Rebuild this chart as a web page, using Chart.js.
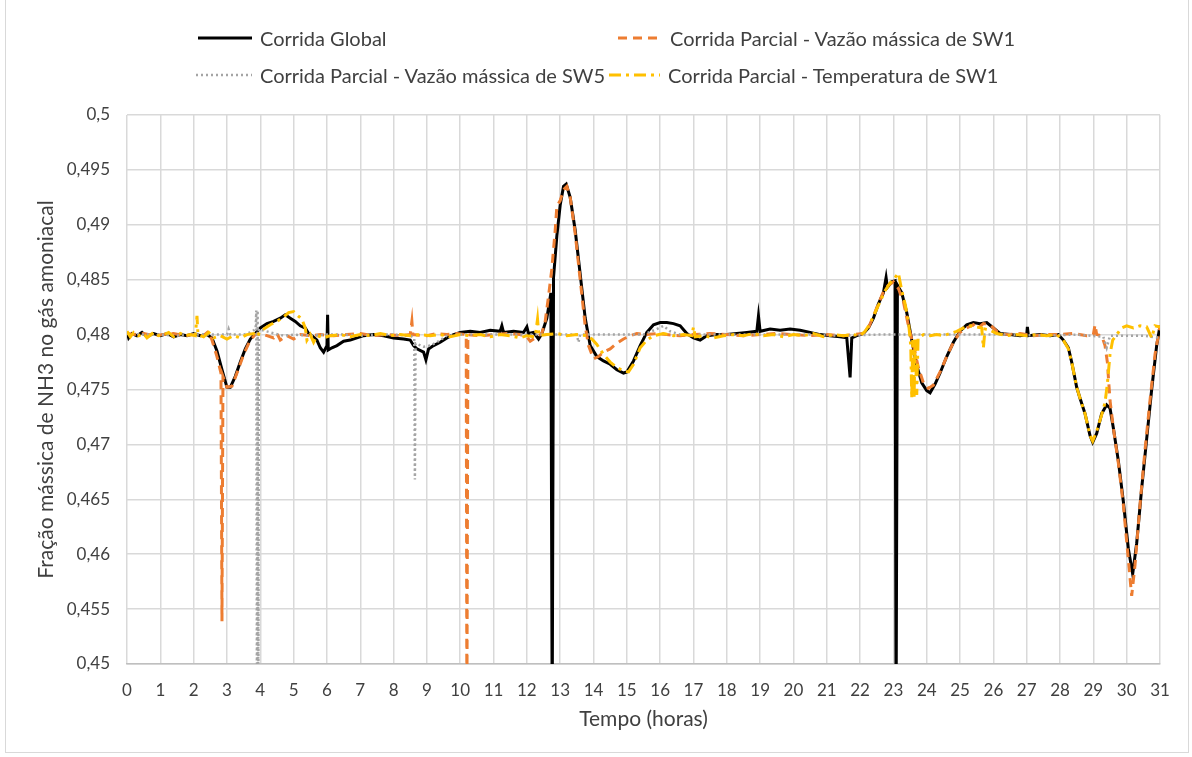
<!DOCTYPE html>
<html>
<head>
<meta charset="utf-8">
<script src="https://cdn.jsdelivr.net/npm/chart.js@4"></script>
<style>
  body { margin: 0; background: #fff; }
  #wrap { position: relative; width: 1192px; height: 757px; overflow: hidden; font-family: Lato, 'Open Sans', sans-serif; }
  #frame { position: absolute; left: 5px; top: -2px; width: 1182px; height: 753px; border: 1px solid #d9d9d9; }
  #chart { position: absolute; left: 0; top: 0; }
  .leg { position: absolute; font-size: 20px; color: #404040; white-space: nowrap; line-height: 26px; }
  .leg svg { position: absolute; left: 0; top: 1px; }
</style>
</head>
<body>
<div id="wrap">
  <div id="frame"></div>
  <canvas id="chart" width="1192" height="757"></canvas>
  <div id="legend"></div>
</div>
<script>
const seriesNames = [
    'Corrida Global',
    'Corrida Parcial - Vazão mássica de SW1',
    'Corrida Parcial - Vazão mássica de SW5',
    'Corrida Parcial - Temperatura de SW1'
];
const seriesColors = ['#000000', '#ed7d31', '#a5a5a5', '#ffc000'];
const seriesDash = [[], [9, 6], [2, 3], [12, 5, 3, 5]];

const yTicks = [0.45, 0.455, 0.46, 0.465, 0.47, 0.475, 0.48, 0.485, 0.49, 0.495, 0.5];
const xTicks = [0, 1, 2, 3, 4, 5, 6, 7, 8, 9, 10, 11, 12, 13, 14, 15, 16, 17, 18, 19, 20, 21, 22, 23, 24, 25, 26, 27, 28, 29, 30, 31];

// Corrida Global
const tGlobal = [0, 0.05, 0.15, 0.3, 0.45, 0.6, 0.8, 1.0, 1.2, 1.4, 1.6, 1.8, 2.0, 2.2, 2.4, 2.55,
    2.7, 2.85, 3.0, 3.1, 3.25, 3.4, 3.55, 3.7, 3.85, 4.0, 4.2, 4.4, 4.6, 4.75, 4.9, 5.05, 5.2, 5.35, 5.45, 5.55,
    5.7, 5.8, 5.9, 6.0, 6.02, 6.04, 6.15, 6.3, 6.5, 6.7, 6.9, 7.1, 7.4, 7.7, 8.0, 8.3, 8.5, 8.6, 8.7, 8.9,
    8.97, 9.05, 9.2, 9.4, 9.6, 9.8, 10.0, 10.3, 10.6, 10.9, 11.2, 11.25, 11.3, 11.6, 11.9, 12.0, 12.05, 12.2,
    12.35, 12.45, 12.6, 12.72, 12.76, 12.8, 12.9, 13.0, 13.1, 13.18, 13.3, 13.45, 13.6, 13.75, 13.9, 14.1,
    14.3, 14.5, 14.7, 14.9, 15.0, 15.2, 15.4, 15.6, 15.8, 16.0, 16.2, 16.4, 16.6, 16.8, 17.0, 17.2, 17.4,
    17.7, 18.0, 18.3, 18.6, 18.9, 18.95, 19.0, 19.3, 19.6, 19.9, 20.2, 20.5, 20.8, 21.1, 21.4, 21.6, 21.7,
    21.75, 21.9, 22.1, 22.25, 22.4, 22.55, 22.7, 22.78, 22.82, 22.95, 23.05, 23.08, 23.12, 23.25, 23.4,
    23.55, 23.7, 23.85, 24.0, 24.1, 24.25, 24.4, 24.6, 24.8, 25.0, 25.2, 25.4, 25.6, 25.8, 26.0, 26.2, 26.5,
    26.8, 27.0, 27.02, 27.05, 27.4, 27.7, 27.95, 28.1, 28.25, 28.35, 28.5, 28.6, 28.75, 28.9, 28.98, 29.1,
    29.25, 29.4, 29.5, 29.6, 29.75, 29.9, 30.05, 30.18, 30.3, 30.45, 30.6, 30.75, 30.9, 31.0];
const yGlobal = [0.4802, 0.4797, 0.4801, 0.4799, 0.4802, 0.4798, 0.4801, 0.4799, 0.4801, 0.4798, 0.4800, 0.4799, 0.4801, 0.4799, 0.4800, 0.4797,
    0.4785, 0.4768, 0.4752, 0.4752, 0.4762, 0.4775, 0.4787, 0.4796, 0.4801, 0.4806, 0.4810, 0.4812, 0.4815, 0.4818, 0.4815, 0.4812, 0.4808, 0.4806, 0.4801, 0.4799,
    0.4795, 0.4788, 0.4784, 0.4790, 0.4818, 0.4786, 0.4788, 0.4790, 0.4794, 0.4795, 0.4797, 0.4799, 0.4800, 0.4799, 0.4797, 0.4796, 0.4795, 0.4790, 0.4787, 0.4784,
    0.4777, 0.4787, 0.4790, 0.4793, 0.4797, 0.4800, 0.4802, 0.4803, 0.4802, 0.4804, 0.4803, 0.4808, 0.4802, 0.4803, 0.4802, 0.4807, 0.4801, 0.4802,
    0.4796, 0.4801, 0.4815, 0.4838, 0.4450, 0.4852, 0.4890, 0.4918, 0.4935, 0.4937, 0.4925, 0.4895, 0.4855, 0.4815, 0.4790, 0.4780,
    0.4776, 0.4773, 0.4768, 0.4765, 0.4766, 0.4776, 0.4790, 0.4802, 0.4809, 0.4811, 0.4811, 0.4810, 0.4808, 0.4801, 0.4797, 0.4795, 0.4799,
    0.4800, 0.4800, 0.4801, 0.4802, 0.4803, 0.4817, 0.4803, 0.4805, 0.4804, 0.4805, 0.4804, 0.4802, 0.4800, 0.4799, 0.4798, 0.4797, 0.4761,
    0.4797, 0.4799, 0.4801, 0.4806, 0.4815, 0.4828, 0.4838, 0.4852, 0.4843, 0.4848, 0.4849, 0.4450, 0.4845, 0.4838, 0.4820,
    0.4795, 0.4772, 0.4756, 0.4749, 0.4747, 0.4755, 0.4765, 0.4780, 0.4793, 0.4803, 0.4809, 0.4811, 0.4810, 0.4811, 0.4806, 0.4801, 0.4800,
    0.4799, 0.4800, 0.4807, 0.4799, 0.4800, 0.4799, 0.4800, 0.4795, 0.4788, 0.4775, 0.4752, 0.4742, 0.4728, 0.4708, 0.4702, 0.4710,
    0.4728, 0.4736, 0.4733, 0.4715, 0.4685, 0.4648, 0.4605, 0.4582, 0.4610, 0.4660, 0.4705, 0.4750, 0.4790, 0.4808];

// Corrida Parcial - Vazão mássica de SW1
const tSW1 = [0, 0.2, 0.5, 0.8, 1.1, 1.4, 1.7, 2.0, 2.3, 2.45, 2.55, 2.7, 2.82, 2.85, 2.88, 3.0, 3.15, 3.3, 3.5,
    3.7, 3.85, 4.0, 4.2, 4.4, 4.5, 4.6, 4.8, 5.0, 5.2, 5.5, 5.8, 6.2, 6.6, 7.0, 7.4, 7.8, 8.2, 8.5, 8.55, 8.58,
    9.0, 9.3, 9.6, 9.9, 10.18, 10.2, 10.23, 10.6, 11.0, 11.4, 11.8, 12.0, 12.1, 12.25, 12.45, 12.55, 12.65,
    12.75, 12.85, 12.9, 13.0, 13.1, 13.2, 13.3, 13.45, 13.6, 13.75, 13.85, 14.0, 14.15, 14.3, 14.5, 14.7,
    14.9, 15.1, 15.3, 15.6, 15.9, 16.2, 16.6, 17.0, 17.5, 18.0, 18.5, 19.0, 19.5, 20.0, 20.5, 21.0, 21.5,
    22.1, 22.25, 22.4, 22.55, 22.7, 22.85, 23.0, 23.15, 23.3, 23.45, 23.6, 23.75, 23.9, 24.05, 24.2, 24.4,
    24.6, 24.8, 25.0, 25.2, 25.4, 25.5, 25.7, 25.9, 26.1, 26.4, 26.8, 27.2, 27.6, 28.0, 28.4, 28.8, 29.0,
    29.05, 29.1, 29.25, 29.35, 29.42, 29.5, 29.6, 29.75, 29.9, 30.05, 30.15, 30.25, 30.4, 30.55, 30.7,
    30.85, 31.0];
const ySW1 = [0.4801, 0.4800, 0.4801, 0.4799, 0.4800, 0.4801, 0.4799, 0.4800, 0.4799, 0.4803, 0.4795, 0.4780, 0.4765, 0.4539, 0.4762, 0.4752, 0.4753, 0.4765, 0.4782,
    0.4795, 0.4800, 0.4801, 0.4799, 0.4797, 0.4801, 0.4795, 0.4799, 0.4796, 0.4800, 0.4799, 0.4800, 0.4799, 0.4800, 0.4801, 0.4799, 0.4800, 0.4799, 0.4800, 0.4812, 0.4800,
    0.4799, 0.4801, 0.4800, 0.4801, 0.4800, 0.4450, 0.4800, 0.4799, 0.4800, 0.4801, 0.4800, 0.4798, 0.4794, 0.4797, 0.4801, 0.4812, 0.4835,
    0.4860, 0.4895, 0.4917, 0.4922, 0.4932, 0.4935, 0.4925, 0.4892, 0.4850, 0.4808, 0.4790, 0.4778, 0.4780, 0.4784, 0.4787, 0.4792,
    0.4796, 0.4799, 0.4801, 0.4800, 0.4801, 0.4800, 0.4799, 0.4800, 0.4801, 0.4800, 0.4799, 0.4800, 0.4801, 0.4800, 0.4799, 0.4800, 0.4799,
    0.4801, 0.4806, 0.4817, 0.4828, 0.4839, 0.4845, 0.4848, 0.4842, 0.4830, 0.4808, 0.4790, 0.4770, 0.4756, 0.4751, 0.4754, 0.4766,
    0.4780, 0.4793, 0.4802, 0.4806, 0.4809, 0.4805, 0.4810, 0.4809, 0.4803, 0.4800, 0.4801, 0.4799, 0.4800, 0.4800, 0.4801, 0.4799, 0.4800,
    0.4809, 0.4800, 0.4799, 0.4790, 0.4775, 0.4740, 0.4715, 0.4683, 0.4645, 0.4595, 0.4562, 0.4590, 0.4645, 0.4695, 0.4740,
    0.4782, 0.4808];

// Corrida Parcial - Vazão mássica de SW5
const tSW5 = [0, 0.5, 1.0, 1.5, 2.0, 2.5, 3.0, 3.05, 3.1, 3.5, 3.7, 3.86, 3.88, 3.9, 3.92, 3.94, 3.96, 4.3, 4.7,
    5.0, 5.5, 6.0, 6.5, 7.0, 7.5, 8.0, 8.5, 8.62, 8.64, 8.66, 8.9, 9.1, 9.3, 9.6, 10.0, 11.0, 12.0, 13.0,
    13.5, 13.55, 13.6, 14.5, 15.5, 15.9, 16.1, 16.3, 16.6, 17.5, 18.5, 19.5, 20.5, 21.5, 22.5, 23.5, 24.5,
    25.5, 26.5, 27.5, 28.5, 29.3, 29.4, 29.5, 30.0, 30.5, 31.0];
const ySW5 = [0.4801, 0.4800, 0.4800, 0.4799, 0.4800, 0.4800, 0.4800, 0.4805, 0.4800, 0.4800, 0.4802, 0.4805, 0.4822, 0.4450, 0.4822, 0.4450, 0.4805, 0.4802, 0.4799,
    0.4800, 0.4799, 0.4800, 0.4800, 0.4799, 0.4800, 0.4800, 0.4799, 0.4797, 0.4668, 0.4792, 0.4789, 0.4790, 0.4793, 0.4799, 0.4800, 0.4800, 0.4800, 0.4800,
    0.4800, 0.4793, 0.4800, 0.4800, 0.4800, 0.4805, 0.4808, 0.4803, 0.4800, 0.4800, 0.4800, 0.4800, 0.4800, 0.4799, 0.4800, 0.4800, 0.4800,
    0.4800, 0.4800, 0.4799, 0.4800, 0.4798, 0.4788, 0.4799, 0.4799, 0.4799, 0.4797];

// Corrida Parcial - Temperatura de SW1
const tTemp = [0, 0.1, 0.2, 0.35, 0.5, 0.6, 0.8, 0.95, 1.1, 1.25, 1.4, 1.6, 1.75, 1.9, 2.05, 2.1, 2.13, 2.3, 2.45,
    2.6, 2.8, 3.0, 3.2, 3.4, 3.6, 3.8, 3.9, 4.0, 4.15, 4.3, 4.5, 4.7, 4.85, 5.0, 5.1, 5.25, 5.35, 5.4, 5.5,
    5.6, 5.7, 5.9, 6.1, 6.4, 6.7, 7.0, 7.3, 7.6, 7.9, 8.2, 8.5, 8.8, 9.1, 9.4, 9.7, 10.0, 10.3, 10.6, 10.9,
    11.2, 11.5, 11.8, 12.0, 12.25, 12.32, 12.36, 12.6, 12.9, 13.2, 13.5, 13.8, 13.95, 14.1, 14.3, 14.5, 14.7,
    14.9, 15.05, 15.2, 15.4, 15.6, 15.8, 16.1, 16.4, 16.7, 16.95, 17.0, 17.05, 17.3, 17.6, 17.9, 18.2, 18.5,
    18.8, 19.1, 19.4, 19.7, 20.0, 20.3, 20.6, 20.9, 21.2, 21.5, 21.8, 22.0, 22.15, 22.3, 22.45, 22.6, 22.75,
    22.9, 23.0, 23.15, 23.25, 23.35, 23.45, 23.52, 23.55, 23.58, 23.62, 23.65, 23.7, 23.74, 23.9, 24.1, 24.3,
    24.5, 24.7, 24.9, 25.1, 25.3, 25.5, 25.65, 25.7, 25.75, 25.9, 26.1, 26.4, 26.7, 27.0, 27.3, 27.6, 27.9,
    28.1, 28.25, 28.35, 28.5, 28.6, 28.75, 28.9, 28.98, 29.1, 29.25, 29.35, 29.42, 29.5, 29.58, 29.7, 29.85,
    30.0, 30.2, 30.4, 30.6, 30.75, 30.85, 31.0];
const yTemp = [0.4803, 0.4798, 0.4802, 0.4799, 0.4801, 0.4797, 0.4802, 0.4799, 0.4800, 0.4802, 0.4798, 0.4801, 0.4799, 0.4800, 0.4799, 0.4817, 0.4800, 0.4798, 0.4802,
    0.4797, 0.4799, 0.4796, 0.4799, 0.4797, 0.4800, 0.4801, 0.4798, 0.4803, 0.4806, 0.4809, 0.4812, 0.4816, 0.4820, 0.4821, 0.4818, 0.4814, 0.4806, 0.4795, 0.4800,
    0.4793, 0.4799, 0.4797, 0.4799, 0.4800, 0.4798, 0.4800, 0.4799, 0.4801, 0.4799, 0.4800, 0.4799, 0.4800, 0.4799, 0.4800, 0.4798, 0.4800, 0.4799, 0.4800, 0.4798,
    0.4800, 0.4799, 0.4797, 0.4799, 0.4798, 0.4814, 0.4799, 0.4800, 0.4801, 0.4799, 0.4800, 0.4799, 0.4796, 0.4791, 0.4782, 0.4775, 0.4770,
    0.4767, 0.4766, 0.4773, 0.4788, 0.4795, 0.4799, 0.4801, 0.4799, 0.4800, 0.4799, 0.4807, 0.4798, 0.4799, 0.4797, 0.4799, 0.4800, 0.4799,
    0.4801, 0.4799, 0.4800, 0.4798, 0.4800, 0.4799, 0.4801, 0.4798, 0.4800, 0.4799, 0.4800, 0.4799, 0.4803, 0.4810, 0.4820, 0.4830, 0.4840,
    0.4847, 0.4850, 0.4856, 0.4840, 0.4828, 0.4812, 0.4790, 0.4742, 0.4795, 0.4742, 0.4796, 0.4745, 0.4797, 0.4800, 0.4799, 0.4800,
    0.4799, 0.4801, 0.4803, 0.4806, 0.4808, 0.4807, 0.4806, 0.4788, 0.4805, 0.4804, 0.4801, 0.4799, 0.4800, 0.4799, 0.4800, 0.4799, 0.4800,
    0.4795, 0.4787, 0.4775, 0.4752, 0.4742, 0.4728, 0.4708, 0.4703, 0.4712, 0.4727, 0.4738, 0.4755, 0.4782, 0.4795, 0.4800, 0.4806,
    0.4808, 0.4806, 0.4808, 0.4807, 0.4797, 0.4808, 0.4807];

const seriesX = [tGlobal, tSW1, tSW5, tTemp];
const seriesY = [yGlobal, ySW1, ySW5, yTemp];

Chart.defaults.font.family = "Lato, 'Open Sans', sans-serif";
Chart.defaults.color = '#595959';

const datasets = seriesNames.map((name, i) => ({
    label: name,
    data: seriesX[i].map((t, j) => ({ x: t, y: seriesY[i][j] })),
    borderColor: seriesColors[i],
    backgroundColor: seriesColors[i],
    borderWidth: i === 2 ? 2.5 : 3,
    borderDash: seriesDash[i],
    pointRadius: 0,
    tension: 0,
    fill: false,
    order: 4 - i
}));

function fmtComma(v) {
    return parseFloat(v.toFixed(3)).toString().replace('.', ',');
}

new Chart(document.getElementById('chart'), {
    type: 'line',
    data: { datasets: datasets },
    options: {
        responsive: false,
        animation: false,
        layout: { padding: { left: 10, top: 115, right: 32, bottom: 0 } },
        plugins: { legend: { display: false }, tooltip: { enabled: false } },
        scales: {
            x: {
                type: 'linear',
                min: 0,
                max: 31,
                afterFit: scale => { scale.height = 93; },
                afterBuildTicks: scale => { scale.ticks = xTicks.map(v => ({ value: v })); },
                ticks: { font: { size: 17 }, padding: 16, color: '#404040', maxRotation: 0, autoSkip: false },
                grid: { color: '#d9d9d9', lineWidth: 1.5, drawTicks: false },
                border: { color: '#bfbfbf', width: 1.5 },
                title: { display: true, text: 'Tempo (horas)', font: { size: 21 }, color: '#404040', padding: { bottom: 25 } }
            },
            y: {
                min: 0.45,
                max: 0.5,
                afterFit: scale => { scale.width = 117; },
                afterBuildTicks: scale => { scale.ticks = yTicks.map(v => ({ value: v })); },
                ticks: { font: { size: 17 }, padding: 17, color: '#404040', callback: v => fmtComma(v) },
                grid: { color: '#d9d9d9', lineWidth: 1.5, drawTicks: false },
                border: { display: false },
                title: { display: true, text: 'Fração mássica de NH3 no gás amoniacal', font: { size: 21 }, color: '#404040', padding: { top: 24 } }
            }
        }
    }
});

// legend in two rows, like the original
const legendPos = [[198, 25, 54], [618, 25, 44], [196, 62, 56], [609, 62, 51]];
const legend = document.getElementById('legend');
seriesNames.forEach((name, i) => {
    const [x, y, w] = legendPos[i];
    const item = document.createElement('div');
    item.className = 'leg';
    item.style.left = x + 'px';
    item.style.top = y + 'px';
    item.style.paddingLeft = (w + 8) + 'px';
    const dash = seriesDash[i].length ? seriesDash[i].join(' ') : 'none';
    item.innerHTML = '<svg width="' + w + '" height="24"><line x1="0" y1="12" x2="' + w + '" y2="12" stroke="' +
        seriesColors[i] + '" stroke-width="' + (i === 2 ? 2.5 : 3) + '" stroke-dasharray="' + dash + '"/></svg>';
    item.appendChild(document.createTextNode(name));
    legend.appendChild(item);
});
</script>
</body>
</html>
